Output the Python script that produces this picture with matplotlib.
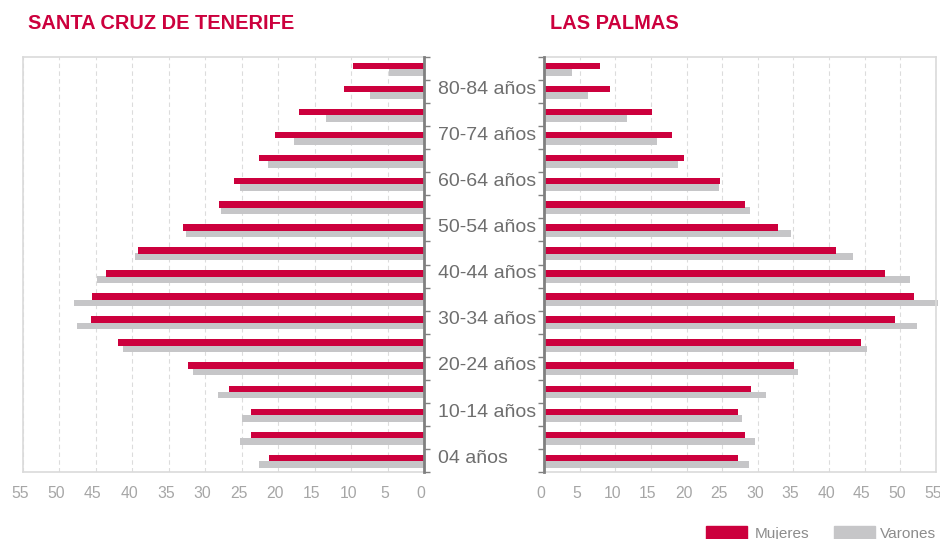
import matplotlib
matplotlib.use("Agg")
import matplotlib.pyplot as plt
import matplotlib.transforms as mtransforms
from matplotlib.patches import Rectangle
import numpy as np

plt.rcParams['font.family'] = ['Liberation Sans', 'DejaVu Sans']

# Age groups, youngest first
grupos = ["04 años", "5-9 años", "10-14 años", "15-19 años", "20-24 años",
          "25-29 años", "30-34 años", "35-39 años", "40-44 años", "45-49 años",
          "50-54 años", "55-59 años", "60-64 años", "65-69 años", "70-74 años",
          "75-79 años", "80-84 años", "85 y más años"]

tf_mujeres = [21.3, 23.7, 23.7, 26.7, 32.4, 42.0, 45.6, 45.5, 43.6, 39.2,
              33.0, 28.1, 26.1, 22.6, 20.5, 17.1, 11.05, 9.7]
tf_varones = [22.6, 25.2, 24.9, 28.2, 31.7, 41.3, 47.6, 48.0, 44.8, 39.6,
              32.6, 27.9, 25.2, 21.4, 17.8, 13.4, 7.4, 4.9]
lp_mujeres = [27.2, 28.25, 27.2, 29.0, 35.1, 44.5, 49.2, 51.9, 47.9, 40.9,
              32.9, 28.25, 24.65, 19.6, 17.9, 15.1, 9.3, 7.8]
lp_varones = [28.7, 29.6, 27.8, 31.1, 35.6, 45.3, 52.3, 55.3, 51.4, 43.3,
              34.7, 28.9, 24.5, 18.85, 15.9, 11.7, 6.2, 3.9]

titulos = ["SANTA CRUZ DE TENERIFE", "LAS PALMAS"]
series = ["Mujeres", "Varones"]
xticks = list(range(0, 60, 5))

ROJO = "#CC003D"
GRIS = "#C6C6C8"
MARCO = "#DADADA"
EJE = "#808080"

W, H = 940, 539
fig = plt.figure(figsize=(W / 100, H / 100), dpi=100)


def fx(px):
    return px / W


def fy(py):
    return (H - py) / H


ax1 = fig.add_axes([fx(22.7), fy(472), fx(424.3 - 22.7), (472 - 57) / H])
ax2 = fig.add_axes([fx(544), fy(472), fx(936 - 544), (472 - 57) / H])

y = np.arange(len(grupos))
desplaza = mtransforms.ScaledTranslation(-3 / 100, 0, fig.dpi_scale_trans)


def panel(ax, muj, var, lado_eje):
    ax.barh(y - 0.165, var, height=0.29, color=GRIS, zorder=2, clip_on=False)
    ax.barh(y + 0.11, muj, height=0.28, color=ROJO, zorder=3, clip_on=False)
    ax.set_ylim(-0.5, len(grupos) - 0.5)
    ax.set_xlim(0, 55)
    ax.set_xticks(xticks)
    ax.set_xticklabels([str(t) for t in xticks])
    ax.tick_params(axis='x', length=0, pad=10, labelsize=11.3, labelcolor="#A6A6A6")
    for lab in ax.get_xticklabels():
        lab.set_transform(lab.get_transform() + desplaza)
    ax.grid(axis='x', color="#DCDCDC", linestyle=(0, (4, 3)), linewidth=0.8, zorder=0)
    ax.set_axisbelow(True)
    for s in ax.spines.values():
        s.set_color(MARCO)
        s.set_linewidth(1.2)
    ax.spines[lado_eje].set_color(EJE)
    ax.spines[lado_eje].set_linewidth(2)
    ax.spines[lado_eje].set_zorder(5)
    ax.set_yticks([])
    ax.set_yticks(np.arange(-0.5, len(grupos), 1.0), minor=True)
    ax.tick_params(axis='y', which='minor', length=4, width=1, color=EJE,
                   direction='out', labelleft=False, labelright=False)
    ax.yaxis.set_ticks_position(lado_eje)


panel(ax1, tf_mujeres, tf_varones, 'right')
ax1.invert_xaxis()
panel(ax2, lp_mujeres, lp_varones, 'left')

# Age-group labels between the two pyramids (every other group)
trans = ax2.get_yaxis_transform()
x_etiqueta = (438 - 544) / (936 - 544)
for i in range(0, len(grupos), 2):
    ax2.text(x_etiqueta, i + 0.1, grupos[i], transform=trans, ha='left', va='center',
             fontsize=14, color="#6E6E6E", clip_on=False)

# Titles
fig.text(fx(28), fy(29), titulos[0], fontsize=14.4, fontweight='bold', color=ROJO,
         ha='left', va='baseline')
fig.text(fx(550), fy(29), titulos[1], fontsize=14.4, fontweight='bold', color=ROJO,
         ha='left', va='baseline')

# Legend
for x0, xt, col, txt in [(706, 755, ROJO, series[0]), (834, 880, GRIS, series[1])]:
    fig.patches.append(Rectangle((fx(x0), fy(541)), fx(41), 15 / H, color=col,
                                 transform=fig.transFigure, figure=fig))
    fig.text(fx(xt), fy(537.7), txt, fontsize=11.1, color="#8C8C8C",
             ha='left', va='baseline')

fig.savefig("out.png", dpi=100)
